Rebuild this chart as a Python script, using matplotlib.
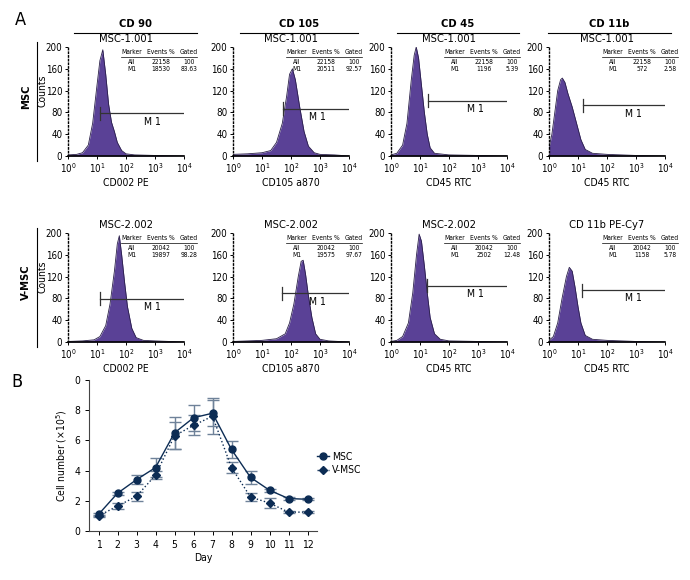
import matplotlib
matplotlib.use('Agg')
import matplotlib.pyplot as plt
import numpy as np
from matplotlib.lines import Line2D

plt.rcParams['font.family'] = ['DejaVu Sans']
plt.rcParams['font.stretch'] = 'condensed'

# ---- panel A: flow cytometry histograms ----
markers = ['CD 90', 'CD 105', 'CD 45', 'CD 11b']
row_names = ['MSC', 'V-MSC']
xlabels = ['CD002 PE', 'CD105 a870', 'CD45 RTC', 'CD45 RTC']
titles = [['MSC-1.001', 'MSC-1.001', 'MSC-1.001', 'MSC-1.001'],
          ['MSC-2.002', 'MSC-2.002', 'MSC-2.002', 'CD 11b PE-Cy7']]

# histogram outlines: log10(fluorescence) and counts
hist_msc = [
    ([0, 0.3, 0.5, 0.7, 0.85, 1.0, 1.1, 1.2, 1.3, 1.4, 1.5, 1.6, 1.7, 1.85, 2.0, 2.3, 3.0, 4.0],
     [2, 3, 6, 20, 60, 130, 175, 195, 150, 95, 62, 45, 25, 10, 4, 2, 1, 0]),
    ([0, 0.5, 1.0, 1.3, 1.5, 1.7, 1.85, 1.95, 2.05, 2.15, 2.3, 2.45, 2.6, 2.8, 3.0, 3.5, 4.0],
     [3, 4, 6, 10, 25, 60, 110, 150, 160, 140, 90, 45, 18, 6, 3, 2, 0]),
    ([0, 0.2, 0.4, 0.55, 0.7, 0.8, 0.87, 0.95, 1.05, 1.15, 1.25, 1.35, 1.5, 2.0, 3.0, 4.0],
     [2, 5, 20, 60, 140, 185, 200, 180, 130, 80, 40, 15, 5, 2, 1, 0]),
    ([0, 0.1, 0.2, 0.3, 0.4, 0.46, 0.55, 0.65, 0.8, 0.95, 1.1, 1.25, 1.5, 2.0, 2.5, 3.0, 4.0],
     [15, 40, 80, 120, 140, 143, 135, 115, 90, 60, 30, 12, 5, 3, 2, 1, 0]),
]
hist_vmsc = [
    ([0, 0.5, 0.9, 1.1, 1.3, 1.45, 1.6, 1.7, 1.77, 1.85, 1.95, 2.05, 2.2, 2.35, 2.6, 3.0, 4.0],
     [1, 2, 4, 10, 30, 70, 130, 180, 195, 160, 110, 65, 25, 8, 3, 2, 0]),
    ([0, 1.0, 1.5, 1.8, 1.95, 2.1, 2.25, 2.35, 2.42, 2.5, 2.6, 2.72, 2.85, 3.0, 3.3, 4.0],
     [1, 3, 6, 15, 35, 70, 120, 148, 150, 125, 85, 45, 15, 5, 2, 0]),
    ([0, 0.2, 0.4, 0.6, 0.75, 0.88, 0.97, 1.05, 1.15, 1.25, 1.35, 1.5, 1.7, 2.0, 3.0, 4.0],
     [1, 3, 10, 35, 90, 160, 198, 185, 140, 90, 45, 15, 5, 2, 1, 0]),
    ([0, 0.15, 0.3, 0.45, 0.6, 0.7, 0.8, 0.9, 1.0, 1.1, 1.25, 1.5, 2.0, 3.0, 4.0],
     [3, 10, 35, 80, 120, 137, 130, 100, 65, 35, 12, 5, 3, 1, 0]),
]
hists = [hist_msc, hist_vmsc]

# M1 gate: start (log10) and height (counts)
gate_start = [[1.1, 1.72, 1.28, 1.17], [1.1, 1.69, 1.25, 1.14]]
gate_y = [[78, 87, 101, 93], [79, 89, 103, 95]]

events_all = [['22158'] * 4, ['20042'] * 4]
events_m1 = [['18530', '20511', '1196', '572'], ['19897', '19575', '2502', '1158']]
gated_m1 = [['83.63', '92.57', '5.39', '2.58'], ['98.28', '97.67', '12.48', '5.78']]

# ---- panel B: growth curve ----
days = list(range(1, 13))
msc = [1.1, 2.5, 3.4, 4.2, 6.5, 7.5, 7.8, 5.4, 3.55, 2.7, 2.15, 2.1]
msc_err = [0.1, 0.1, 0.3, 0.65, 1.05, 0.85, 0.85, 0.55, 0.42, 0.1, 0.08, 0.08]
vmsc = [1.0, 1.65, 2.3, 3.7, 6.3, 7.0, 7.6, 4.2, 2.25, 1.85, 1.25, 1.25]
vmsc_err = [0.08, 0.2, 0.3, 0.25, 0.9, 0.65, 1.2, 0.35, 0.25, 0.35, 0.08, 0.08]

W, H = 690, 580
fig = plt.figure(figsize=(6.9, 5.8), dpi=100)

def fx(x):
    return x / W

def fy(y):
    return 1 - y / H

purple = '#5a4196'
col_left = [68, 233, 391, 549]
row_top = [47, 233]
row_bot = [156, 342]
hdr_x = [(74, 197), (240, 358), (397, 519), (548, 671)]

for r in range(2):
    for c in range(4):
        ax = fig.add_axes([fx(col_left[c]), fy(row_bot[r]), fx(116), (row_bot[r] - row_top[r]) / H])
        lx, cnt = hists[r][c]
        xv = 10 ** np.array(lx)
        ax.fill_between(xv, 0, cnt, color=purple, lw=0)
        ax.plot(xv, cnt, color='#2a1f4a', lw=0.6)
        ax.set_xscale('log')
        ax.set_xlim(1, 1e4)
        ax.set_ylim(0, 200)
        ax.set_yticks([0, 40, 80, 120, 160, 200])
        ax.set_xticks([1, 10, 100, 1000, 10000])
        ax.set_xticklabels(['10$^0$', '10$^1$', '10$^2$', '10$^3$', '10$^4$'])
        ax.tick_params(labelsize=7, length=2.5, width=0.7, pad=1.5)
        ax.tick_params(which='minor', length=1.5, width=0.5)
        for s in ['top', 'right']:
            ax.spines[s].set_visible(False)
        ax.spines['left'].set_linestyle(':')
        ax.spines['left'].set_linewidth(1.0)
        ax.spines['bottom'].set_linewidth(1.2)
        ax.set_xlabel(xlabels[c], fontsize=7.5, labelpad=2)
        ax.text(0.5, 1.03, titles[r][c], transform=ax.transAxes, ha='center', va='bottom', fontsize=8)

        g0 = 10 ** gate_start[r][c]
        gy = gate_y[r][c]
        ax.plot([g0, 1e4], [gy, gy], color='#333333', lw=0.9)
        ax.plot([g0, g0], [gy - 12, gy + 12], color='#333333', lw=0.9)
        ax.text(10 ** 2.9, gy - 6, 'M 1', ha='center', va='top', fontsize=7.5)

        # stats table
        tx = [0.55, 0.80, 1.04]
        for x0, h in zip(tx, ['Marker', 'Events %', 'Gated']):
            ax.text(x0, 0.95, h, transform=ax.transAxes, ha='center', va='center', fontsize=4.8)
        ax.plot([0.46, 1.11], [0.912, 0.912], transform=ax.transAxes, color='black', lw=0.5, clip_on=False)
        for yy, row in zip([0.865, 0.80], [['All', events_all[r][c], '100'],
                                           ['M1', events_m1[r][c], gated_m1[r][c]]]):
            for x0, t in zip(tx, row):
                ax.text(x0, yy, t, transform=ax.transAxes, ha='center', va='center', fontsize=4.8)
        if c == 0:
            ax.set_ylabel('Counts', fontsize=7.5)
            ax.yaxis.set_label_coords(-0.18, 0.6)

    # row label and bracket
    fig.text(fx(26), fy((row_top[r] + row_bot[r]) / 2 - 5), row_names[r], rotation=90,
             ha='center', va='center', fontsize=8, fontweight='bold')
    fig.add_artist(Line2D([fx(37), fx(37)], [fy(row_top[r] - 5), fy(row_bot[r] + 5)], color='black', lw=0.8))

for c in range(4):
    x0, x1 = hdr_x[c]
    fig.text(fx((x0 + x1) / 2), fy(24), markers[c], ha='center', va='center', fontsize=8, fontweight='bold')
    fig.add_artist(Line2D([fx(x0), fx(x1)], [fy(33), fy(33)], color='black', lw=0.8))

fig.text(fx(20), fy(20), 'A', ha='center', va='center', fontsize=13)
fig.text(fx(17), fy(382), 'B', ha='center', va='center', fontsize=13)

# ---- panel B axes ----
navy = '#0c2c54'
errc = '#6f8299'
axb = fig.add_axes([fx(89), fy(531), fx(228), 151 / H])
axb.errorbar(days, msc, yerr=msc_err, color=navy, lw=1.0, marker='o', ms=5,
             ecolor=errc, elinewidth=1.0, capsize=4, capthick=1.0, zorder=3)
axb.errorbar(days, vmsc, yerr=vmsc_err, color=navy, lw=1.0, ls=':', marker='D', ms=4.5,
             ecolor=errc, elinewidth=1.0, capsize=4, capthick=1.0, zorder=3)
axb.set_xlim(0.5, 12.5)
axb.set_ylim(0, 10)
axb.set_xticks(days)
axb.set_yticks([0, 2, 4, 6, 8, 10])
axb.set_yticklabels(['0', '2', '4', '6', '8', '0'])
axb.tick_params(labelsize=7.5, length=3, width=0.7)
for s in ['top', 'right']:
    axb.spines[s].set_visible(False)
axb.spines['left'].set_color('#444444')
axb.spines['bottom'].set_color('#444444')
axb.set_xlabel('Day', fontsize=7.5, labelpad=2)
axb.set_ylabel('Cell number (×10$^5$)', fontsize=7.5, labelpad=4)
handles = [Line2D([], [], color=navy, lw=1.0, marker='o', ms=5),
           Line2D([], [], color=navy, lw=1.0, ls=':', marker='D', ms=4.5)]
axb.legend(handles, ['MSC', 'V-MSC'], loc='upper left', bbox_to_anchor=(0.98, 0.55), frameon=False,
           fontsize=7.5, handlelength=1.2, handletextpad=0.3, labelspacing=0.3, borderaxespad=0)

fig.savefig('out.png', dpi=100)
